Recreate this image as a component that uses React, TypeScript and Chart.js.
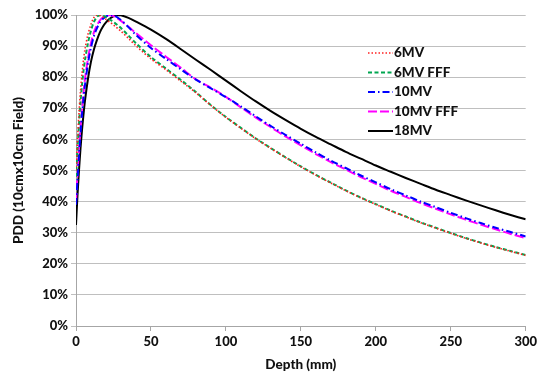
import React, { useEffect, useRef } from "react";
import { Chart, registerables } from "chart.js";

Chart.register(...registerables);

const depths = [0, 1, 2, 3, 4, 5, 6, 8, 10, 12, 14, 16, 18, 20, 22, 24, 26, 28, 30, 35, 40,
  50, 60, 70, 80, 90, 100, 110, 120, 130, 140, 150, 160, 170, 180, 190, 200,
  210, 220, 230, 240, 250, 260, 270, 280, 290, 300];

const pdd6MV = [50, 60, 68.5, 75.5, 81, 85.5, 89, 93.8, 97, 99.2, 100, 99.8, 99.3, 98.6, 97.9, 97.2, 96.4, 95.6, 94.8, 92.5, 90.1,
  85.9, 82.4, 78.7, 75.0, 70.9, 67.1, 63.6, 60.2, 57.1, 54.1, 51.2, 48.5, 46.0, 43.5, 41.2, 39.1,
  37.0, 35.1, 33.2, 31.5, 29.8, 28.2, 26.7, 25.3, 24.0, 22.7];

const pdd6MVFFF = [48, 57, 65, 72, 77.5, 82, 85.5, 91, 95, 97.8, 99.4, 100, 99.8, 99.3, 98.7, 98.1, 97.4, 96.6, 95.8, 93.4, 90.9,
  86.5, 82.8, 79.1, 75.2, 71.0, 67.2, 63.7, 60.3, 57.2, 54.2, 51.3, 48.6, 46.1, 43.6, 41.3, 39.2,
  37.1, 35.2, 33.3, 31.6, 29.9, 28.3, 26.8, 25.4, 24.1, 22.8];

const pdd10MV = [39, 47, 55, 62, 68, 73, 77.5, 84.5, 89.5, 93.3, 95.8, 97.6, 98.8, 99.5, 99.9, 100, 99.7, 99.1, 98.4, 96.1, 93.6,
  89.4, 85.9, 82.5, 79.2, 76.4, 73.6, 70.6, 67.4, 64.3, 61.4, 58.6, 55.8, 53.2, 50.8, 48.4, 46.2,
  44.0, 42.0, 40.0, 38.2, 36.4, 34.7, 33.1, 31.6, 30.2, 28.8];

const pdd10MVFFF = [40, 49, 57, 64, 70, 75, 79.5, 86, 91, 94.5, 96.7, 98.3, 99.3, 99.8, 100, 99.8, 99.4, 98.8, 98.1, 96.2, 94.2,
  90.3, 86.6, 83.0, 79.3, 76.6, 73.7, 70.3, 67.0, 63.9, 60.9, 58.1, 55.3, 52.7, 50.3, 47.9, 45.7,
  43.5, 41.5, 39.5, 37.7, 35.9, 34.2, 32.6, 31.1, 29.6, 28.3];

const pdd18MV = [32.5, 42, 50, 57, 63, 68, 72.5, 79.5, 85, 89, 92, 94.5, 96.3, 97.6, 98.6, 99.3, 99.8, 100, 99.9, 99.1, 97.9,
  95.3, 92.3, 89.0, 85.6, 82.3, 78.9, 75.5, 72.2, 69.1, 66.2, 63.4, 60.8, 58.4, 56.0, 53.8, 51.6,
  49.6, 47.6, 45.7, 43.8, 42.1, 40.4, 38.8, 37.2, 35.7, 34.3];

const seriesNames = ["6MV", "6MV FFF", "10MV", "10MV FFF", "18MV"];
const xTicks = [0, 50, 100, 150, 200, 250, 300];
const yTicks = [0, 10, 20, 30, 40, 50, 60, 70, 80, 90, 100];

const FONT = "Lato, 'Open Sans', sans-serif";
const TEXT = "#111111";

const legendPlugin = {
  id: "insideLegend",
  afterDraw(chart: any) {
    const ctx = chart.ctx;
    const x0 = 368;
    const len = 25;
    const y0 = 53;
    const step = 19.5;
    ctx.save();
    chart.data.datasets.forEach((ds: any, i: number) => {
      const y = y0 + i * step;
      ctx.beginPath();
      ctx.strokeStyle = ds.borderColor;
      ctx.lineWidth = ds.borderWidth;
      ctx.setLineDash(ds.borderDash || []);
      ctx.moveTo(x0, y);
      ctx.lineTo(x0 + len, y);
      ctx.stroke();
      ctx.setLineDash([]);
      ctx.fillStyle = TEXT;
      ctx.font = "900 13.5px " + FONT;
      ctx.textBaseline = "middle";
      ctx.textAlign = "left";
      ctx.fillText(ds.label, x0 + len + 1, y);
    });
    ctx.restore();
  },
};

export default function App() {
  const ref = useRef<HTMLCanvasElement | null>(null);
  useEffect(() => {
    if (!ref.current) return;
    const mk = (vals: number[]) => depths.map((d, i) => ({ x: d, y: vals[i] }));
    const chart = new Chart(ref.current, {
      type: "line",
      data: {
        datasets: [
          { label: seriesNames[0], data: mk(pdd6MV), borderColor: "#ff2020", borderWidth: 1.6, borderDash: [1.5, 2], pointRadius: 0, tension: 0.3 },
          { label: seriesNames[1], data: mk(pdd6MVFFF), borderColor: "#00a650", borderWidth: 2, borderDash: [4, 2.5], pointRadius: 0, tension: 0.3 },
          { label: seriesNames[2], data: mk(pdd10MV), borderColor: "#0000ff", borderWidth: 2, borderDash: [7, 3, 1.5, 3], pointRadius: 0, tension: 0.3 },
          { label: seriesNames[3], data: mk(pdd10MVFFF), borderColor: "#ff00ff", borderWidth: 2, borderDash: [9, 3], pointRadius: 0, tension: 0.3 },
          { label: seriesNames[4], data: mk(pdd18MV), borderColor: "#000000", borderWidth: 2, pointRadius: 0, tension: 0.3 },
        ],
      },
      options: {
        animation: false,
        responsive: false,
        maintainAspectRatio: false,
        layout: { padding: { top: 15, right: 12, left: 0, bottom: 0 } },
        plugins: { legend: { display: false }, tooltip: { enabled: false } },
        scales: {
          x: {
            type: "linear",
            min: 0,
            max: 300,
            afterBuildTicks: (s: any) => { s.ticks = xTicks.map((v) => ({ value: v })); },
            afterFit: (s: any) => { s.height = 49; },
            grid: { drawOnChartArea: false, drawTicks: true, tickLength: 5, color: "#a6a6a6" },
            border: { display: true, color: "#a6a6a6" },
            ticks: { color: TEXT, font: { family: FONT, size: 13, weight: "900" }, padding: 3, maxRotation: 0 },
            title: { display: true, text: "Depth (mm)", color: TEXT, font: { family: FONT, size: 13.5, weight: "900" }, padding: { top: 4, bottom: 2 } },
          },
          y: {
            type: "linear",
            min: 0,
            max: 100,
            afterBuildTicks: (s: any) => { s.ticks = yTicks.map((v) => ({ value: v })); },
            afterFit: (s: any) => { s.width = 76; },
            grid: { color: "#bfbfbf", tickLength: 5, drawTicks: true },
            border: { display: true, color: "#a6a6a6" },
            ticks: { color: TEXT, font: { family: FONT, size: 13, weight: "900" }, padding: 3, callback: (v: any) => v + "%" },
            title: { display: true, text: "PDD (10cmx10cm Field)", color: TEXT, font: { family: FONT, size: 13.5, weight: "900" }, padding: { top: 11, bottom: 4 } },
          },
        },
      },
      plugins: [legendPlugin],
    });
    return () => chart.destroy();
  }, []);
  return (
    <div style={{ position: "absolute", left: 0, top: 0, width: 540, height: 375 }}>
      <canvas ref={ref} width={540} height={375} style={{ width: 540, height: 375 }} />
    </div>
  );
}
